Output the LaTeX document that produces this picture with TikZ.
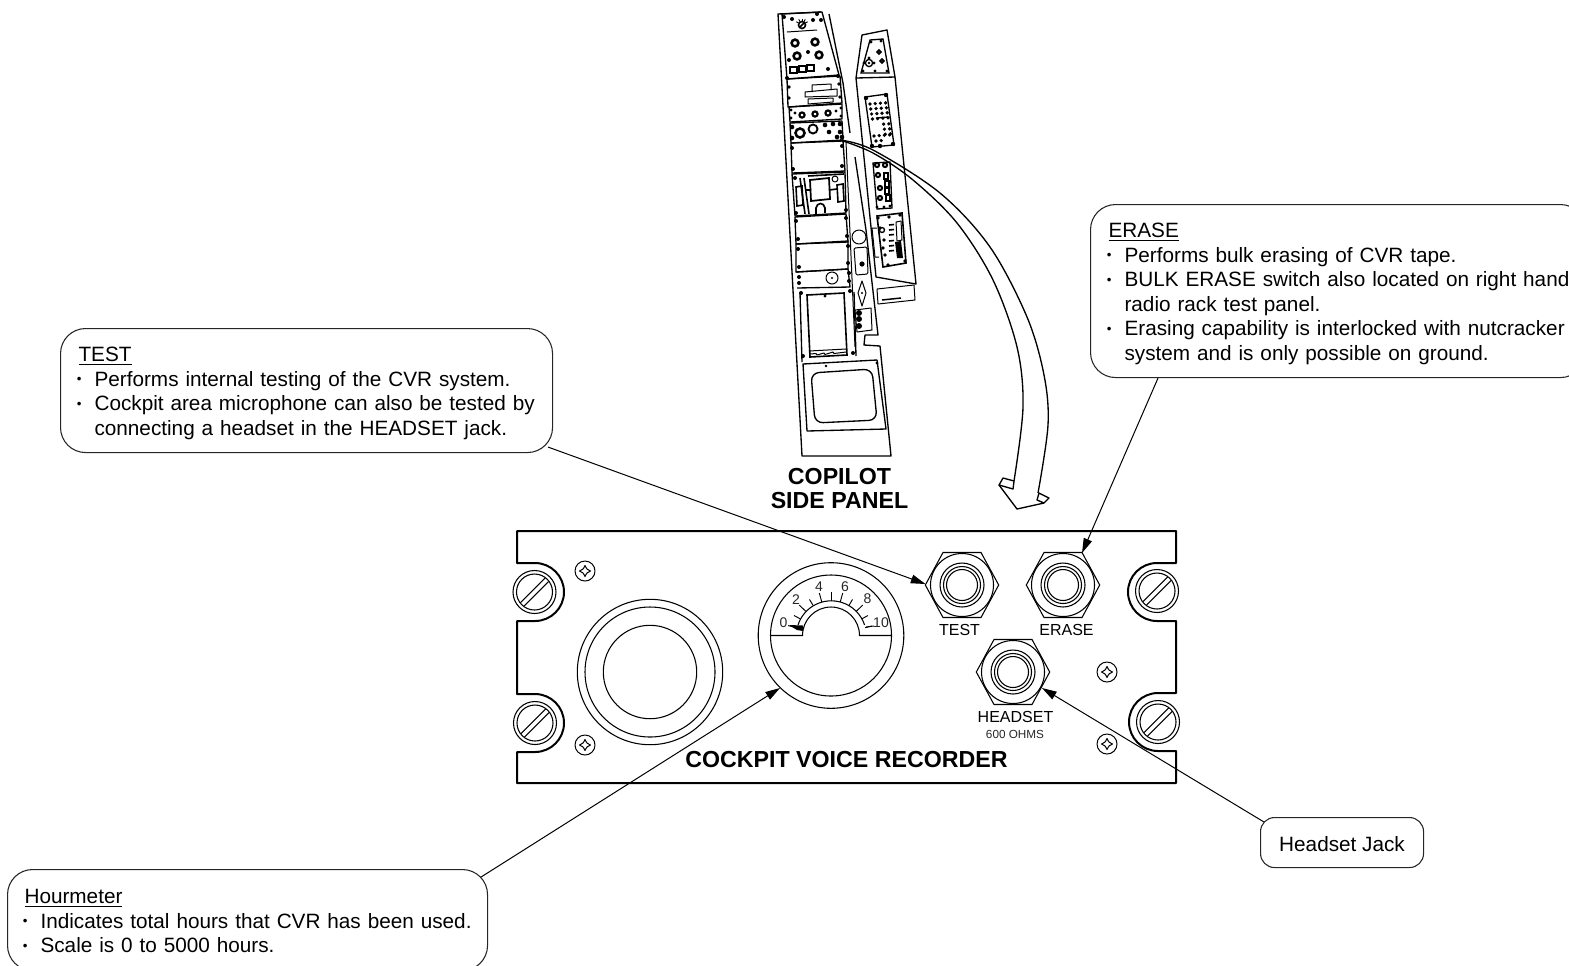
\documentclass[tikz,border=0pt]{standalone}
\usepackage{fontspec}
\setmainfont{Liberation Sans}
\usetikzlibrary{arrows.meta,calc}
\tikzset{
  lead/.style={draw=black,line width=0.75pt,-{Triangle[length=11pt,width=6.5pt]}},
  callout/.style={draw=black!85,line width=0.8pt,rounded corners=18.75pt,fill=white,anchor=north west,inner xsep=13.5pt,inner ysep=0pt,align=left,font=\fontsize{15.55}{18.375}\selectfont},
  pan/.style={draw=black,line width=1pt,line join=round},
  thin pan/.style={draw=black,line width=0.75pt,line join=round},
  case/.style={draw=black,line width=1.5pt,line join=round},
  part/.style={draw=black,line width=0.8pt},
  jacklabel/.style={font=\fontsize{12}{12}\selectfont,inner sep=0pt},
  titlelabel/.style={font=\bfseries\fontsize{17.4}{17.6}\selectfont,inner sep=0pt},
  scalelabel/.style={font=\fontsize{10.5}{10.5}\selectfont,inner sep=0pt,text=black!85}
}
\newcommand{\itm}[1]{\mbox{\makebox[12pt][l]{\kern-1.3pt\raisebox{2pt}{\fontsize{10}{10}\selectfont •}}#1}}
\newcommand{\cont}[1]{\mbox{\hspace*{12pt}#1}}
\newcommand{\jackat}[2]{\begin{scope}[shift={(#1,#2)}]
  \draw[part] (-36.7,0)--(-19,-32.5)--(19,-32.5)--(36.7,0)--(19,32.5)--(-19,32.5)--cycle;
  \draw[part] (0,0) circle[radius=31.5];
  \draw[part] (0,0) circle[radius=22];
  \draw[part] (0,0) circle[radius=18.5];
  \draw[part] (0,0) circle[radius=15.5];
\end{scope}}
\newcommand{\capscrew}[2]{\begin{scope}[shift={(#1,#2)}]
  \draw[part] (0,0) circle[radius=21.5];
  \draw[part] (0,0) circle[radius=18];
  \draw[part] (-14,10.5)--(10.5,-14);
  \draw[part] (-10.5,14)--(14,-10.5);
\end{scope}}
\newcommand{\starscrew}[2]{\begin{scope}[shift={(#1,#2)}]
  \draw[thin pan] (0,0) circle[radius=10];
  \draw[thin pan] (5.5,0) .. controls (2,-1.5) .. (0,-5.5) .. controls (-2,-1.5) .. (-5.5,0) .. controls (-2,1.5) .. (0,5.5) .. controls (2,1.5) .. cycle;
\end{scope}}
\begin{document}
\begin{tikzpicture}[x=0.75pt,y=-0.75pt]
\useasboundingbox (0,0) rectangle (1569,965);
\clip (0,0) rectangle (1569,965);

% ---------- copilot side panel, left column
\draw[pan] (829,14)--(843,83)--(850,133);
\draw[pan] (855,157)--(866,230)--(878,335)--(865,335)--(864,345)--(880,346)--(891,456)--(802,456)--(778,14)--(821,12);
\draw[thin pan] (846,142)--(855,347);
\draw[pan] (782,14)--(822,12)--(839,75)--(787,79)--cycle;
\draw[thin pan] (787,32)--(817,30);
\draw[line width=1.2pt] (802,25) circle[radius=3.5] (799,28)--(805,22);
\foreach \t in {-60,-30,0,30,60}{\draw[line width=0.7pt] ($(802,25)+(\t-90:4)$)--($(802,25)+(\t-90:6.5)$);}
\foreach \a/\b in {795/43,815/42,797/56,819/55}{\draw[line width=1.9pt] (\a,\b) circle[radius=3.4];}
\foreach \a/\b in {784/17,817/14,821/20,813/20,792/19,808/52,789/60,828/69,787/78,838/76}{\fill (\a,\b) circle[radius=2];}
\foreach \a/\b in {793/70,802/69,810/68}{\draw[line width=1.5pt] (\a-3.5,\b-3) rectangle (\a+3.5,\b+3);}
\draw[pan] (787,79)--(840,76)--(842,103)--(788,107)--cycle;
\draw[thin pan] (812,92)--(812,85)--(831,84)--(831,90);
\draw[thin pan] (805,92)--(837,89)--(837,96)--(805,97)--cycle;
\draw[thin pan] (808,99)--(833,98)--(833,102)--(808,104)--cycle;
\foreach \a/\b in {789/87,839/84,789/98,840/97}{\fill (\a,\b) circle[radius=1.8];}
\draw[pan] (789,107)--(842,104)--(842,119)--(790,122)--cycle;
\foreach \a/\b in {802/115,815/114,828/113}{\draw[line width=1.6pt] (\a,\b) circle[radius=2.6];}
\foreach \a/\b in {791/110,841/108,791/118,841/116,795/113,836/111}{\fill (\a,\b) circle[radius=1.6];}
\draw[pan] (790,123)--(842,121)--(843,140)--(791,143)--cycle;
\draw[line width=1.9pt] (800,133) circle[radius=4.5];
\draw[line width=1.4pt] (813,129) circle[radius=4.5];
\foreach \a/\b in {825/125,833/124,829/132,840/124,840/132,842/137,792/138,792/127,837/137}{\fill (\a,\b) circle[radius=2.3];}
\draw[pan] (791,143)--(843,141)--(845,171)--(792,173)--cycle;
\foreach \a/\b in {792/148,842/146,842/166,793/169}{\fill (\a,\b) circle[radius=2];}
\draw[pan] (792,174)--(845,172)--(846,213)--(795,216)--cycle;
\draw[line width=1.3pt] (810,180)--(829,178)--(830,199)--(811,201)--cycle;
\draw[line width=1.2pt] (796,187)--(802,186)--(803,205)--(797,206)--cycle;
\draw[line width=1.2pt] (837,185)--(843,184)--(844,201)--(838,202)--cycle;
\draw[line width=1.2pt] (816,214)--(816,208) .. controls (817,202) and (824,202) .. (825,208)--(825,213);
\draw[line width=1.2pt] (800,178)--(805,214) (804,178)--(809,214) (805,190)--(811,190) (829,190)--(837,189) (808,176)--(844,174);
\draw[thin pan] (835,179) circle[radius=3];
\foreach \a/\b in {795/178,796/213,846/210}{\fill (\a,\b) circle[radius=2];}
\draw[pan] (795,217)--(846,214)--(848,242)--(796,244)--cycle;
\foreach \a/\b in {796/221,846/218,798/239,847/236}{\fill (\a,\b) circle[radius=2];}
\draw[pan] (796,244)--(848,241)--(848,269)--(796,272)--cycle;
\foreach \a/\b in {798/249,848/246,799/267,848/263}{\fill (\a,\b) circle[radius=2];}
\draw[pan] (796,272)--(848,269)--(850,287)--(797,288);
\draw[thin pan] (832,278) circle[radius=6];
\fill (832,278) circle[radius=1.2];
\foreach \a/\b in {799/277,849/273,799/283,849/281,801/293,850/291}{\fill (\a,\b) circle[radius=2];}
\draw[pan] (800,293)--(802,362);
\draw[pan] (854,292)--(856,356);
\draw[line width=1.2pt] (807,295)--(844,293)--(847,355)--(810,357)--cycle;
\draw[thin pan] (809,351)--(846,349);
\draw[thin pan] (810,354) -- (816,353.5) -- (817,355) -- (824,353) -- (825,354.5) -- (833,352) -- (834,353.5) -- (846,352);
\fill (825,296) circle[radius=1.6] (803,356) circle[radius=2] (853,353) circle[radius=2];
\draw[pan] (803,364)--(877,360)--(886,429)--(807,431)--cycle;
\draw[line width=1pt,rounded corners=6pt] (811,373)--(872,369)--(877,420)--(815,423)--cycle;
\fill (826,366) circle[radius=1.4] (877,363) circle[radius=1.6];
% strip to the right of the plates
\draw[thin pan] (859,237) circle[radius=7];
\draw[thin pan,rounded corners=1pt] (854,248)--(867,247)--(868,274)--(856,275)--cycle;
\fill (862,264) circle[radius=2.6];
\draw[thin pan] (862,281)--(866,293)--(862,306)--(858,293)--cycle;
\fill (862,293) circle[radius=1.2];
\draw[thin pan] (855,310)--(871,308)--(872,330)--(857,332)--cycle;
\foreach \b in {313,319,326}{\fill (859,\b) circle[radius=3];}

% ---------- copilot side panel, right column
\draw[pan] (856,78)--(862,35)--(887,30)--(895,77)--(916,284)--(876,277)--(856,78)--(895,77);
\draw[line width=1pt] (870,40)--(883,39)--(889,73)--(861,73)--cycle;
\draw[line width=1pt] (869,63) circle[radius=3.6];
\fill (869,63) circle[radius=1.3];
\draw[line width=1.3pt] (879,52) circle[radius=1.9] (882,61) circle[radius=1.9];
\foreach \a/\b in {871/42,881/41,863/71,887/71,875/71,864/63,874/63,869/58}{\fill (\a,\b) circle[radius=1.6];}
\draw[line width=1pt] (865,97)--(887,94)--(894,145)--(872,147)--cycle;
\foreach \a/\b in {866/98,886/95,872/146,893/144,880/146}{\fill (\a,\b) circle[radius=2.2];}
\foreach \r in {0,...,3}{\foreach \c in {0,...,3}{\draw[line width=0.8pt] ({870+\c*5.2+\r*0.8},{104+\r*5-\c*0.4}) circle[radius=1.1];}}
\foreach \r in {4,5,6}{\foreach \c in {2,3}{\draw[line width=0.8pt] ({870+\c*5.2+\r*0.8},{105+\r*5-\c*0.4}) circle[radius=1.1];}}
\foreach \c in {0,1,2,3}{\draw[line width=0.8pt] ({874+\c*5.2},{136-\c*0.4}) circle[radius=1.1];}
\foreach \c in {0,1}{\draw[line width=0.8pt] ({876+\c*5.2},{141-\c*0.4}) circle[radius=1.1];}
\draw[line width=1pt] (876,118)--(888,117);
\draw[line width=1pt] (873,163)--(890,162)--(892,208)--(877,209)--cycle;
\foreach \a/\b in {877/165,885/165,878/175,880/188,880/198}{\draw[line width=1.5pt] (\a,\b) circle[radius=2.1];}
\foreach \a/\b in {886/176,887/184,887/191,888/198}{\draw[line width=1.3pt] (\a-1.8,\b-3) rectangle (\a+1.8,\b+3);}
\foreach \a/\b in {877/207,890/206,884/207}{\fill (\a,\b) circle[radius=1.7];}
\draw[line width=1.2pt] (877,216)--(902,213)--(906,263)--(883,267)--cycle;
\draw[thin pan] (872,228)--(877,228) (872,228)--(875,257)--(879,257);
\foreach \a/\b in {878/218,900/215,905/261,888/265,884/240,883/248,885/255,880/228,889/217}{\fill (\a,\b) circle[radius=1.9];}
\draw[line width=1pt] (882,230) circle[radius=2.5];
\draw[thin pan] (896,222)--(901,221)--(902,240)--(897,241)--cycle;
\fill (895,242)--(901,241)--(903,258)--(897,258)--cycle;
\foreach \b in {225,230,235,241,246,251}{\draw[line width=1.2pt] (889,\b)--(894,\b-0.5);}
\draw[thin pan] (877,289)--(914,285)--(915,300)--(878,304)--cycle;
\draw[line width=1.1pt] (882,300)--(901,298);

% ---------- big curved arrow
\draw[pan] plot[smooth,tension=0.55] coordinates {(840,140)(873,150)(940,193)(990,247)(1027,317)(1044,375)(1048,425)(1038,493)};
\draw[pan] plot[smooth,tension=0.55] coordinates {(840,140)(873,153)(913,180)(957,223)(993,280)(1017,347)(1023,407)(1014,481)};
\draw[pan] (1003,478)--(1014,481)--(1013,489)--(999,485)--cycle;
\draw[pan] (999,485)--(1017,509)--(1044,503)--(1049,498)--(1039,493)--(1037,500)--(1044,503);

\node[titlelabel,align=center] (copilot) at (839.5,488) {\rule{0pt}{13pt}COPILOT\\[0.2pt]SIDE PANEL};

% ---------- recorder front panel
\draw[case] (517,531)--(1176,531)--(1176,563)--(1157,563) arc[start angle=-90,end angle=-270,radius=29]--(1176,621)--(1176,693)--(1158,693) arc[start angle=-90,end angle=-270,radius=29]--(1176,751)--(1176,783)--(517,783)--(517,752)--(535,752) arc[start angle=90,end angle=-90,radius=29]--(517,694)--(517,621)--(535,621) arc[start angle=90,end angle=-90,radius=29]--(517,563)--cycle;
\capscrew{534.5}{592}\capscrew{535}{723}\capscrew{1157}{591}\capscrew{1158}{722}
\starscrew{585}{571}\starscrew{585}{745}\starscrew{1107}{672}\starscrew{1107}{744}
\draw[part] (650,672) circle[radius=72.7];
\draw[part] (650,672) circle[radius=65];
\draw[part] (650,672) circle[radius=46.7];
% hour meter
\draw[part] (831,635.5) circle[radius=72.8];
\draw[part] (831,635.5) circle[radius=60.5];
\draw[part] (770.5,635.5)--(802.5,635.5) arc[start angle=180,end angle=360,radius=28.5]--(891.5,635.5);
\draw[part] (798,625) arc[start angle=198,end angle=342,radius=35];
\foreach \i in {0,...,10}{
  \pgfmathsetmacro{\ang}{193+15.4*\i}
  \pgfmathsetmacro{\rr}{(\i==0||\i==2||\i==4||\i==5||\i==6||\i==8)?44:42}
  \draw[line width=0.7pt] ($(831,635.5)+(\ang:35)$)--($(831,635.5)+(\ang:\rr)$);
}
\draw[line width=0.7pt] (866,627)--(874,626);
\fill (789,625)--(803,625.5)--(803,631)--(797,630)--cycle;
\node[scalelabel] (s0) at (783.5,622.5) {0};
\node[scalelabel] (s2) at (796,600) {2};
\node[scalelabel] (s4) at (819,586.5) {4};
\node[scalelabel] (s6) at (845,586.5) {6};
\node[scalelabel] (s8) at (867.5,599) {8};
\node[scalelabel] (s10) at (881,622.5) {10};
% jacks
\jackat{962}{585}\jackat{1063}{585}\jackat{1013}{672}
\node[jacklabel] (ltest) at (959.5,629.5) {TEST};
\node[jacklabel] (lerase) at (1066.5,629.5) {ERASE};
\node[jacklabel] (lhead) at (1015.5,716.5) {HEADSET};
\node[font=\fontsize{8.8}{8.8}\selectfont,inner sep=0pt,text=black!85] (lohms) at (1015,734) {600 OHMS};
\node[titlelabel] (cvr) at (846.5,759.5) {COCKPIT VOICE RECORDER};

% ---------- callouts
\node[callout,minimum width=369pt,minimum height=93pt,text width=342pt] (testbox) at (60,328)
 {\rule{0pt}{15.5pt}\underline{TEST}\\\itm{Performs internal testing of the CVR system.}\\\itm{Cockpit area microphone can also be tested by}\\\cont{connecting a headset in the HEADSET jack.}};
\node[callout,minimum width=371.25pt,minimum height=129.75pt,text width=344.25pt] (erasebox) at (1090,204)
 {\rule{0pt}{15.5pt}\underline{ERASE}\\\itm{Performs bulk erasing of CVR tape.}\\\itm{BULK ERASE switch also located on right hand}\\\cont{radio rack test panel.}\\\itm{Erasing capability is interlocked with nutcracker}\\\cont{system and is only possible on ground.}};
\node[callout,inner xsep=12.75pt,minimum width=360pt,minimum height=75.75pt,text width=334.5pt] (hourbox) at (7,869)
 {\rule{0pt}{12.5pt}\underline{Hourmeter}\\\itm{Indicates total hours that CVR has been used.}\\\itm{Scale is 0 to 5000 hours.}};
\node[callout,rounded corners=10.5pt,minimum width=122.25pt,minimum height=37.5pt,inner xsep=0pt,align=center] (jackbox) at (1260,817) {\rule{0pt}{14pt}Headset Jack};

% ---------- leaders
\coordinate (testtip) at (925.5,584);
\coordinate (erasetip) at (1082,553);
\coordinate (hourtip) at (780,688);
\coordinate (jacktip) at (1042,688);
\draw[lead] ($(testbox.south east)+(-5,-6)$)--(testtip);
\draw[lead] ($(erasebox.south west)+(68,0)$)--(erasetip);
\draw[lead] ($(hourbox.north east)+(-7,8)$)--(hourtip);
\draw[lead] ($(jackbox.north west)+(4,5)$)--(jacktip);
\end{tikzpicture}
\end{document}
